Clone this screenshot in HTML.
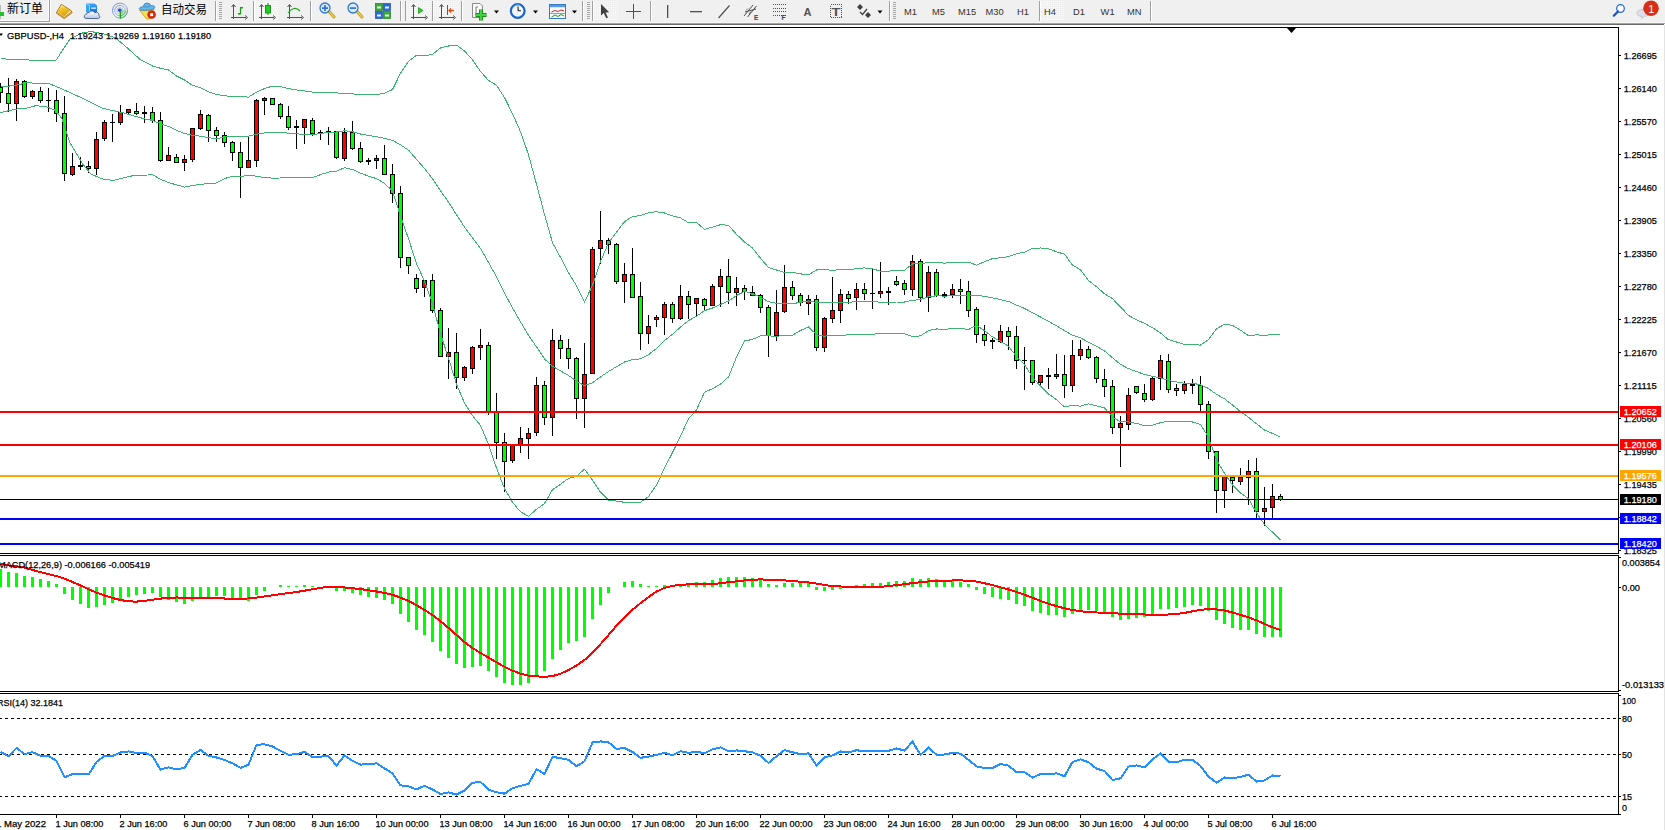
<!DOCTYPE html>
<html><head><meta charset="utf-8"><title>GBPUSD-,H4</title>
<style>
html,body{margin:0;padding:0;background:#fff;width:1665px;height:830px;overflow:hidden}
svg{display:block}
.ax{font-family:'Liberation Sans', 'DejaVu Sans', sans-serif;font-size:9.8px;fill:#000;stroke:#000;stroke-width:0.25px}
</style></head><body>
<svg width="1665" height="830" viewBox="0 0 1665 830">
<g id="toolbar">
<rect x="0" y="0" width="1665" height="22" fill="#f0f0f0"/>
<rect x="0" y="22" width="1665" height="1" fill="#f7f7f7"/>
<rect x="0" y="23" width="1665" height="1" fill="#a3a3a3"/>
<rect x="0" y="24" width="1664" height="1" fill="#6a6a6a"/>
<rect x="48" y="0" width="1" height="21" fill="#fafafa"/><rect x="0" y="20" width="49" height="1" fill="#fafafa"/>
<rect x="49" y="0" width="1" height="22" fill="#a0a0a0"/><rect x="0" y="21" width="50" height="1" fill="#a0a0a0"/>
<rect x="50" y="0" width="1" height="22" fill="#fbfbfb"/>
<rect x="0" y="5" width="1" height="14" fill="#b8b8b8"/><rect x="0" y="12" width="4" height="4" fill="#22c32a"/>
<text x="7" y="13.2" font-family="'Liberation Sans', 'Noto Sans CJK SC', 'WenQuanYi Zen Hei', sans-serif" font-size="12" fill="#000" textLength="36" lengthAdjust="spacingAndGlyphs">新订单</text>
<defs><linearGradient id="gold" x1="0.2" y1="0" x2="0.6" y2="1"><stop offset="0" stop-color="#fff3a0"/><stop offset="0.35" stop-color="#f2c828"/><stop offset="1" stop-color="#d89a10"/></linearGradient><linearGradient id="blu" x1="0" y1="0" x2="0" y2="1"><stop offset="0" stop-color="#3aa8ff"/><stop offset="1" stop-color="#0a6ee0"/></linearGradient><linearGradient id="cld" x1="0" y1="0" x2="0" y2="1"><stop offset="0" stop-color="#ffffff"/><stop offset="1" stop-color="#b8c8e0"/></linearGradient><radialGradient id="clk" cx="0.4" cy="0.35" r="0.7"><stop offset="0" stop-color="#ffffff"/><stop offset="0.55" stop-color="#dfe9f5"/><stop offset="0.62" stop-color="#2f7fd8"/><stop offset="1" stop-color="#0b4fa8"/></radialGradient><pattern id="dots" width="2" height="2" patternUnits="userSpaceOnUse"><rect width="2" height="2" fill="#f6f6f6"/><rect width="1" height="1" fill="#ebebeb"/></pattern></defs>
<path d="M61.3,4.3 L70.8,10.3 L72.2,12.6 L64.2,18.6 L56.3,13 L58.5,9.2 Z" fill="#f3dc8a" stroke="#9c6410" stroke-width="0.9"/>
<path d="M61.6,5 L70,10.3 L64.3,16.2 L57.6,11.8 Z" fill="url(#gold)"/>
<path d="M57.3,12.6 L64.3,17.2 L71.3,12" fill="none" stroke="#c48a22" stroke-width="0.8"/>
<path d="M86.3,3.6 L94.5,3.6 L97,5.2 L97,12.5 L86.3,12.5 Z" fill="url(#blu)"/>
<path d="M86.3,3.6 L89.6,5.6 L89.6,12 L86.3,12 Z" fill="#2aa8ff"/><path d="M87,3.9 L89.6,5.7 L89.6,11.5" fill="none" stroke="#d8f0ff" stroke-width="0.7"/>
<rect x="91.3" y="7.5" width="4.6" height="1.3" fill="#e6f6ff"/>
<path d="M85.2,18.4 Q83.6,17.2 84.6,15.3 Q85.4,13.9 86.6,14.2 Q86.8,12.1 89.2,12.4 Q90.2,10.6 92.6,11 Q94.6,11.3 94.9,12.9 Q96.2,11.6 97.8,12.6 Q99.2,13.6 99,15.4 Q100.4,16.6 99.4,18 Q98.8,18.6 97.5,18.6 Z" fill="url(#cld)" stroke="#3d5c94" stroke-width="0.9"/>
<defs><linearGradient id="sg" x1="0" y1="0" x2="1" y2="1"><stop offset="0" stop-color="#2a5ad0"/><stop offset="0.5" stop-color="#6a90d8"/><stop offset="1" stop-color="#209030"/></linearGradient><radialGradient id="sg2" cx="0" cy="0" r="1"><stop offset="0" stop-color="#f0f8f0"/><stop offset="1" stop-color="#60b060"/></radialGradient></defs>
<path d="M120,10.6 L128,10.6 A8,8 0 0 1 120,18.6 Z" fill="#a8d8a8" opacity="0.7"/>
<circle cx="120" cy="10.6" r="7.5" fill="none" stroke="url(#sg)" stroke-width="1" opacity="0.75"/>
<circle cx="120" cy="10.6" r="5.2" fill="none" stroke="url(#sg)" stroke-width="1" opacity="0.6"/>
<circle cx="120" cy="10.6" r="3.0" fill="none" stroke="url(#sg)" stroke-width="1" opacity="0.45"/>
<circle cx="119.8" cy="10.3" r="1.8" fill="#2048c8"/><rect x="119.7" y="10.8" width="1.3" height="7.8" fill="#18a018"/>
<path d="M139.5,10.2 L154,9.8 L149.5,19 L146.5,19 Z" fill="#f6dc50" stroke="#c89a18" stroke-width="0.8"/>
<path d="M139.2,8.6 Q140,6.4 143.3,6.8 Q143.6,3 147,3 Q150.3,3 150.6,5.8 Q154.8,5 154.8,7.4 Q154.6,9.6 150,10 L143,10.3 Q139.4,10.4 139.2,8.6 Z" fill="#64b8ec" stroke="#2c7cae" stroke-width="0.8"/>
<path d="M144,6.5 Q147,8 150.2,6" fill="none" stroke="#2c7cae" stroke-width="0.6"/>
<circle cx="151.6" cy="14.6" r="3.9" fill="#e02a10" stroke="#b01008" stroke-width="0.6"/><rect x="150.2" y="13.2" width="2.9" height="2.9" fill="#fff"/>
<text x="161" y="13.6" font-family="'Liberation Sans', 'Noto Sans CJK SC', 'WenQuanYi Zen Hei', sans-serif" font-size="12" fill="#000" textLength="46" lengthAdjust="spacingAndGlyphs">自动交易</text>
<rect x="215" y="1" width="1" height="20" fill="#a0a0a0"/><rect x="216" y="1" width="1" height="20" fill="#ffffff"/>
<rect x="219" y="2" width="3" height="1" fill="#a8a8a8"/>
<rect x="219" y="4" width="3" height="1" fill="#a8a8a8"/>
<rect x="219" y="6" width="3" height="1" fill="#a8a8a8"/>
<rect x="219" y="8" width="3" height="1" fill="#a8a8a8"/>
<rect x="219" y="10" width="3" height="1" fill="#a8a8a8"/>
<rect x="219" y="12" width="3" height="1" fill="#a8a8a8"/>
<rect x="219" y="14" width="3" height="1" fill="#a8a8a8"/>
<rect x="219" y="16" width="3" height="1" fill="#a8a8a8"/>
<rect x="219" y="18" width="3" height="1" fill="#a8a8a8"/>
<rect x="233" y="5" width="1" height="14" fill="#505050"/><rect x="231" y="17" width="15" height="1" fill="#505050"/>
<path d="M231.5,7 L233.5,4.5 L235.5,7" fill="none" stroke="#505050" stroke-width="1"/>
<path d="M245,15.5 L247.5,17.5 L245,19.5" fill="none" stroke="#505050" stroke-width="1"/>
<path d="M238.5,14.5 L239.5,14.5 M240.5,8 L240.5,14.5 M240.5,8 L242.5,8" stroke="#18a018" stroke-width="1.2" fill="none"/><rect x="238" y="13" width="2" height="1.2" fill="#18a018"/><rect x="240" y="7" width="3" height="1.2" fill="#18a018"/>
<rect x="254" y="1" width="25" height="20" fill="url(#dots)"/>
<rect x="253" y="1" width="1" height="20" fill="#a0a0a0"/><rect x="254" y="1" width="1" height="20" fill="#ffffff"/>
<rect x="261" y="5" width="1" height="14" fill="#505050"/><rect x="259" y="17" width="15" height="1" fill="#505050"/>
<path d="M259.5,7 L261.5,4.5 L263.5,7" fill="none" stroke="#505050" stroke-width="1"/>
<path d="M273,15.5 L275.5,17.5 L273,19.5" fill="none" stroke="#505050" stroke-width="1"/>
<rect x="267.5" y="3" width="1" height="12" fill="#109010"/><rect x="265.5" y="5.5" width="5" height="7.5" fill="#20d020" stroke="#108010" stroke-width="0.8"/>
<rect x="289" y="5" width="1" height="14" fill="#505050"/><rect x="287" y="17" width="15" height="1" fill="#505050"/>
<path d="M287.5,7 L289.5,4.5 L291.5,7" fill="none" stroke="#505050" stroke-width="1"/>
<path d="M301,15.5 L303.5,17.5 L301,19.5" fill="none" stroke="#505050" stroke-width="1"/>
<path d="M288,13 Q294,5 300,11" fill="none" stroke="#18a018" stroke-width="1.2"/>
<rect x="310" y="1" width="1" height="20" fill="#a0a0a0"/><rect x="311" y="1" width="1" height="20" fill="#ffffff"/>
<path d="M329,11.5 L334,17" stroke="#b89010" stroke-width="3" stroke-linecap="round"/>
<path d="M329,11.5 L334,17" stroke="#f0d050" stroke-width="1.5" stroke-linecap="round"/>
<circle cx="325" cy="8" r="5" fill="#d8eaf8" stroke="#2f78d0" stroke-width="1.3"/>
<rect x="322" y="7.3" width="6" height="1.6" fill="#2a6cc8"/>
<rect x="324.2" y="5" width="1.6" height="6" fill="#2a6cc8"/>
<path d="M357,11.5 L362,17" stroke="#b89010" stroke-width="3" stroke-linecap="round"/>
<path d="M357,11.5 L362,17" stroke="#f0d050" stroke-width="1.5" stroke-linecap="round"/>
<circle cx="353" cy="8" r="5" fill="#d8eaf8" stroke="#2f78d0" stroke-width="1.3"/>
<rect x="350" y="7.3" width="6" height="1.6" fill="#2a6cc8"/>
<rect x="375.5" y="3.5" width="7" height="7" fill="#3aa83a" stroke="#1c7c1c" stroke-width="0.7"/><rect x="383.5" y="3.5" width="7" height="7" fill="#2a6ad8" stroke="#1a4aa8" stroke-width="0.7"/>
<rect x="375.5" y="11.5" width="7" height="7" fill="#2a6ad8" stroke="#1a4aa8" stroke-width="0.7"/><rect x="383.5" y="11.5" width="7" height="7" fill="#3aa83a" stroke="#1c7c1c" stroke-width="0.7"/>
<rect x="377" y="6.5" width="4" height="2" fill="#e8f4e8"/>
<rect x="385" y="6.5" width="4" height="2" fill="#e8f4e8"/>
<rect x="377" y="14.5" width="4" height="2" fill="#e8f4e8"/>
<rect x="385" y="14.5" width="4" height="2" fill="#e8f4e8"/>
<rect x="400" y="1" width="1" height="20" fill="#a0a0a0"/><rect x="401" y="1" width="1" height="20" fill="#ffffff"/>
<rect x="405" y="1" width="1" height="20" fill="#a0a0a0"/>
<rect x="406" y="1" width="25" height="20" fill="url(#dots)"/>
<rect x="413" y="5" width="1" height="14" fill="#505050"/><rect x="411" y="17" width="15" height="1" fill="#505050"/>
<path d="M411.5,7 L413.5,4.5 L415.5,7" fill="none" stroke="#505050" stroke-width="1"/>
<path d="M425,15.5 L427.5,17.5 L425,19.5" fill="none" stroke="#505050" stroke-width="1"/>
<path d="M418.5,7.5 L423,10.5 L418.5,13.5 Z" fill="#40c040" stroke="#18a018" stroke-width="0.8"/>
<rect x="432" y="1" width="1" height="20" fill="#a0a0a0"/><rect x="433" y="1" width="1" height="20" fill="#ffffff"/>
<rect x="434" y="1" width="25" height="20" fill="url(#dots)"/>
<rect x="441" y="5" width="1" height="14" fill="#505050"/><rect x="439" y="17" width="15" height="1" fill="#505050"/>
<path d="M439.5,7 L441.5,4.5 L443.5,7" fill="none" stroke="#505050" stroke-width="1"/>
<path d="M453,15.5 L455.5,17.5 L453,19.5" fill="none" stroke="#505050" stroke-width="1"/>
<rect x="447" y="5" width="1" height="10" fill="#1a68c0"/><path d="M454,10.5 L449,10.5 M451,8.5 L449,10.5 L451,12.5" stroke="#e05010" stroke-width="1.3" fill="none"/>
<rect x="461" y="1" width="1" height="20" fill="#a0a0a0"/><rect x="462" y="1" width="1" height="20" fill="#ffffff"/>
<path d="M472.5,3.5 L480,3.5 L482.5,6 L482.5,17.5 L472.5,17.5 Z" fill="#fafafa" stroke="#707070" stroke-width="0.8"/>
<path d="M476,7 L476,15 M476,7 L478,7" stroke="#606060" stroke-width="0.8" fill="none"/>
<path d="M481,9.5 L481,20.5 M475.5,15 L486.5,15" stroke="#189018" stroke-width="4"/><path d="M481,10 L481,20 M476,15 L486,15" stroke="#44d044" stroke-width="2.2"/>
<path d="M494,10.5 L499,10.5 L496.5,13.5 Z" fill="#000"/>
<circle cx="517.7" cy="11" r="6.7" fill="#f2f6fb" stroke="#1668d0" stroke-width="1.9"/><circle cx="517.7" cy="11" r="7.6" fill="none" stroke="#0b4aa0" stroke-width="0.5"/>
<path d="M512.8,8 A5.6,5.6 0 0 1 520.5,5.6" fill="none" stroke="#6ab4ff" stroke-width="1"/>
<path d="M518,6.5 L518.2,10.8 L521,10.8" stroke="#202020" stroke-width="1.1" fill="none"/>
<path d="M533,10.5 L538,10.5 L535.5,13.5 Z" fill="#000"/>
<rect x="549.5" y="4.5" width="16" height="14" fill="#f6f9fd" stroke="#3878c8" stroke-width="1"/><rect x="550" y="5" width="15" height="2.2" fill="#5a9ae0"/>
<path d="M551.5,12 L555,10.5 L558,11.5 L561,10 L564,11" stroke="#c03020" stroke-width="1" fill="none"/>
<path d="M551.5,17 L555,15 L558,16.5 L561,14.5 L564,16" stroke="#20a020" stroke-width="1" fill="none"/><rect x="550" y="13" width="15" height="0.8" fill="#6a8ac0"/>
<path d="M572,10.5 L577,10.5 L574.5,13.5 Z" fill="#000"/>
<rect x="582" y="1" width="1" height="20" fill="#a0a0a0"/><rect x="583" y="1" width="1" height="20" fill="#ffffff"/>
<rect x="587" y="2" width="3" height="1" fill="#a8a8a8"/>
<rect x="587" y="4" width="3" height="1" fill="#a8a8a8"/>
<rect x="587" y="6" width="3" height="1" fill="#a8a8a8"/>
<rect x="587" y="8" width="3" height="1" fill="#a8a8a8"/>
<rect x="587" y="10" width="3" height="1" fill="#a8a8a8"/>
<rect x="587" y="12" width="3" height="1" fill="#a8a8a8"/>
<rect x="587" y="14" width="3" height="1" fill="#a8a8a8"/>
<rect x="587" y="16" width="3" height="1" fill="#a8a8a8"/>
<rect x="587" y="18" width="3" height="1" fill="#a8a8a8"/>
<rect x="592" y="1" width="1" height="20" fill="#a0a0a0"/><rect x="593" y="1" width="1" height="20" fill="#ffffff"/>
<rect x="594" y="1" width="25" height="20" fill="url(#dots)"/>
<path d="M601,4 L601,15.5 L603.8,13 L606.2,18.2 L608,17.4 L605.6,12.4 L609.2,12.2 Z" fill="#404040"/>
<rect x="633" y="4" width="1" height="15" fill="#505050"/><rect x="626" y="11" width="15" height="1" fill="#505050"/>
<rect x="650" y="1" width="1" height="20" fill="#a0a0a0"/><rect x="651" y="1" width="1" height="20" fill="#ffffff"/>
<rect x="667" y="5" width="1.3" height="13" fill="#505050"/>
<rect x="690" y="11" width="12" height="1.3" fill="#505050"/>
<path d="M718.5,18 L729.5,5.5" stroke="#505050" stroke-width="1.2"/>
<path d="M744,16 L753,5 M747.5,17 L756.5,6 M745,12 L756,9" stroke="#505050" stroke-width="1" fill="none"/><path d="M746,10.5 L748,8.5 M749,14 L751,11.5 M752,11 L754,9" stroke="#505050" stroke-width="0.8"/>
<text x="754" y="20" font-family="'Liberation Sans', 'DejaVu Sans', sans-serif" font-size="6.5" font-weight="bold" fill="#404040">E</text>
<path d="M773,4.5 L787,4.5" stroke="#505050" stroke-width="1" stroke-dasharray="1,1" shape-rendering="crispEdges"/>
<path d="M773,8 L787,8" stroke="#505050" stroke-width="1" stroke-dasharray="1,1" shape-rendering="crispEdges"/>
<path d="M773,11.5 L787,11.5" stroke="#505050" stroke-width="1" stroke-dasharray="1,1" shape-rendering="crispEdges"/>
<path d="M773,15 L787,15" stroke="#505050" stroke-width="1" stroke-dasharray="1,1" shape-rendering="crispEdges"/>
<text x="781.5" y="20" font-family="'Liberation Sans', 'DejaVu Sans', sans-serif" font-size="6.5" font-weight="bold" fill="#404040">F</text>
<text x="803.5" y="16" font-family="'Liberation Sans', 'DejaVu Sans', sans-serif" font-size="11.5" font-weight="bold" fill="#555" textLength="8" lengthAdjust="spacingAndGlyphs">A</text>
<rect x="830.5" y="4.5" width="11" height="13" fill="none" stroke="#505050" stroke-width="1" stroke-dasharray="1,1" shape-rendering="crispEdges"/>
<text x="831.5" y="16" font-family="'Liberation Sans', 'DejaVu Sans', sans-serif" font-size="11.5" font-weight="bold" fill="#555" textLength="9" lengthAdjust="spacingAndGlyphs">T</text>
<path d="M857,7 L860,4 L863,7 L860,10 Z M865,15 L868,12 L871,15 L868,18 Z" fill="#404040"/><path d="M860,12 L862.5,14.5 L867,9" stroke="#404040" stroke-width="1.3" fill="none"/>
<path d="M877.5,10.5 L882.5,10.5 L880.0,13.5 Z" fill="#000"/>
<rect x="889" y="1" width="1" height="20" fill="#a0a0a0"/><rect x="890" y="1" width="1" height="20" fill="#ffffff"/>
<rect x="893" y="2" width="3" height="1" fill="#a8a8a8"/>
<rect x="893" y="4" width="3" height="1" fill="#a8a8a8"/>
<rect x="893" y="6" width="3" height="1" fill="#a8a8a8"/>
<rect x="893" y="8" width="3" height="1" fill="#a8a8a8"/>
<rect x="893" y="10" width="3" height="1" fill="#a8a8a8"/>
<rect x="893" y="12" width="3" height="1" fill="#a8a8a8"/>
<rect x="893" y="14" width="3" height="1" fill="#a8a8a8"/>
<rect x="893" y="16" width="3" height="1" fill="#a8a8a8"/>
<rect x="893" y="18" width="3" height="1" fill="#a8a8a8"/>
<text x="904.1" y="15" font-family="'Liberation Sans', 'DejaVu Sans', sans-serif" font-size="9.6" fill="#333" textLength="12.9" lengthAdjust="spacingAndGlyphs">M1</text>
<text x="932.1" y="15" font-family="'Liberation Sans', 'DejaVu Sans', sans-serif" font-size="9.6" fill="#333" textLength="12.9" lengthAdjust="spacingAndGlyphs">M5</text>
<text x="958.1" y="15" font-family="'Liberation Sans', 'DejaVu Sans', sans-serif" font-size="9.6" fill="#333" textLength="18.1" lengthAdjust="spacingAndGlyphs">M15</text>
<text x="985.6" y="15" font-family="'Liberation Sans', 'DejaVu Sans', sans-serif" font-size="9.6" fill="#333" textLength="18.1" lengthAdjust="spacingAndGlyphs">M30</text>
<text x="1017.1" y="15" font-family="'Liberation Sans', 'DejaVu Sans', sans-serif" font-size="9.6" fill="#333" textLength="11.9" lengthAdjust="spacingAndGlyphs">H1</text>
<rect x="1040" y="1" width="25" height="20" fill="url(#dots)"/>
<rect x="1039" y="1" width="1" height="20" fill="#a0a0a0"/><rect x="1040" y="1" width="1" height="20" fill="#ffffff"/>
<text x="1044.1" y="15" font-family="'Liberation Sans', 'DejaVu Sans', sans-serif" font-size="9.6" fill="#333" textLength="11.9" lengthAdjust="spacingAndGlyphs">H4</text>
<text x="1073.1" y="15" font-family="'Liberation Sans', 'DejaVu Sans', sans-serif" font-size="9.6" fill="#333" textLength="11.9" lengthAdjust="spacingAndGlyphs">D1</text>
<text x="1100.6" y="15" font-family="'Liberation Sans', 'DejaVu Sans', sans-serif" font-size="9.6" fill="#333" textLength="14.0" lengthAdjust="spacingAndGlyphs">W1</text>
<text x="1127.1" y="15" font-family="'Liberation Sans', 'DejaVu Sans', sans-serif" font-size="9.6" fill="#333" textLength="14.5" lengthAdjust="spacingAndGlyphs">MN</text>
<rect x="1150" y="1" width="1" height="20" fill="#a0a0a0"/><rect x="1151" y="1" width="1" height="20" fill="#ffffff"/>
<circle cx="1620.5" cy="8.5" r="3.8" fill="#fff" stroke="#2a6ad8" stroke-width="1.3"/><path d="M1618,11.5 L1613.8,15.8" stroke="#1a50c0" stroke-width="2.2" stroke-linecap="round"/>
<path d="M1642,18.5 L1641.5,16.5 Q1637,16 1637,13 Q1637,9.5 1643,9.5 Q1649,9.5 1649,13 Q1649,16 1644,16.3 Z" fill="#dde0ea" stroke="#b0b4c0" stroke-width="0.7"/>
<circle cx="1651" cy="8.3" r="7.8" fill="#d83018"/>
<text x="1648.3" y="12.8" font-family="'Liberation Sans', 'DejaVu Sans', sans-serif" font-size="11" fill="#fff">1</text>
</g>
<g id="chart" shape-rendering="crispEdges">
<rect x="0" y="25" width="1664" height="805" fill="#fff"/>
<rect x="1664" y="25" width="1" height="805" fill="#e3e3e3"/>
<rect x="0" y="27" width="1619" height="1" fill="#000"/>
<rect x="1618" y="27" width="1" height="527" fill="#000"/>
<rect x="1618" y="555" width="1" height="137" fill="#000"/>
<rect x="1618" y="693" width="1" height="122" fill="#000"/>
<rect x="0" y="553" width="1619" height="1" fill="#000"/>
<rect x="0" y="555" width="1619" height="1" fill="#000"/>
<rect x="0" y="691" width="1619" height="1" fill="#000"/>
<rect x="0" y="693" width="1619" height="1" fill="#000"/>
<rect x="0" y="814" width="1619" height="1" fill="#000"/>
</g>
<g shape-rendering="crispEdges">
<rect x="0" y="83" width="1" height="20" fill="#000"/>
<rect x="-2" y="87" width="5" height="6" fill="#000"/>
<rect x="-1" y="88" width="3" height="4" fill="#00ff00"/>
<rect x="8" y="78" width="1" height="34" fill="#000"/>
<rect x="6" y="93" width="5" height="11" fill="#000"/>
<rect x="7" y="94" width="3" height="9" fill="#00ff00"/>
<rect x="16" y="79" width="1" height="42" fill="#000"/>
<rect x="14" y="81" width="5" height="23" fill="#000"/>
<rect x="15" y="82" width="3" height="21" fill="#ff0000"/>
<rect x="24" y="80" width="1" height="18" fill="#000"/>
<rect x="22" y="81" width="5" height="16" fill="#000"/>
<rect x="23" y="82" width="3" height="14" fill="#00ff00"/>
<rect x="32" y="90" width="1" height="9" fill="#000"/>
<rect x="30" y="91" width="5" height="6" fill="#000"/>
<rect x="31" y="92" width="3" height="4" fill="#ff0000"/>
<rect x="40" y="87" width="1" height="16" fill="#000"/>
<rect x="38" y="91" width="5" height="10" fill="#000"/>
<rect x="39" y="92" width="3" height="8" fill="#00ff00"/>
<rect x="48" y="88" width="1" height="24" fill="#000"/>
<rect x="46" y="100" width="5" height="1" fill="#000"/>
<rect x="56" y="90" width="1" height="32" fill="#000"/>
<rect x="54" y="100" width="5" height="14" fill="#000"/>
<rect x="55" y="101" width="3" height="12" fill="#00ff00"/>
<rect x="64" y="96" width="1" height="85" fill="#000"/>
<rect x="62" y="113" width="5" height="61" fill="#000"/>
<rect x="63" y="114" width="3" height="59" fill="#00ff00"/>
<rect x="72" y="153" width="1" height="23" fill="#000"/>
<rect x="70" y="166" width="5" height="9" fill="#000"/>
<rect x="71" y="167" width="3" height="7" fill="#ff0000"/>
<rect x="80" y="157" width="1" height="13" fill="#000"/>
<rect x="78" y="165" width="5" height="2" fill="#000"/>
<rect x="88" y="161" width="1" height="12" fill="#000"/>
<rect x="86" y="166" width="5" height="3" fill="#000"/>
<rect x="87" y="167" width="3" height="1" fill="#00ff00"/>
<rect x="96" y="132" width="1" height="43" fill="#000"/>
<rect x="94" y="139" width="5" height="30" fill="#000"/>
<rect x="95" y="140" width="3" height="28" fill="#ff0000"/>
<rect x="104" y="120" width="1" height="21" fill="#000"/>
<rect x="102" y="122" width="5" height="17" fill="#000"/>
<rect x="103" y="123" width="3" height="15" fill="#ff0000"/>
<rect x="112" y="114" width="1" height="28" fill="#000"/>
<rect x="110" y="122" width="5" height="1" fill="#000"/>
<rect x="120" y="105" width="1" height="20" fill="#000"/>
<rect x="118" y="112" width="5" height="11" fill="#000"/>
<rect x="119" y="113" width="3" height="9" fill="#ff0000"/>
<rect x="128" y="109" width="1" height="6" fill="#000"/>
<rect x="126" y="109" width="5" height="4" fill="#000"/>
<rect x="127" y="110" width="3" height="2" fill="#ff0000"/>
<rect x="136" y="103" width="1" height="12" fill="#000"/>
<rect x="134" y="111" width="5" height="3" fill="#000"/>
<rect x="135" y="112" width="3" height="1" fill="#00ff00"/>
<rect x="144" y="106" width="1" height="17" fill="#000"/>
<rect x="142" y="112" width="5" height="2" fill="#000"/>
<rect x="152" y="107" width="1" height="16" fill="#000"/>
<rect x="150" y="112" width="5" height="9" fill="#000"/>
<rect x="151" y="113" width="3" height="7" fill="#00ff00"/>
<rect x="160" y="112" width="1" height="50" fill="#000"/>
<rect x="158" y="120" width="5" height="41" fill="#000"/>
<rect x="159" y="121" width="3" height="39" fill="#00ff00"/>
<rect x="168" y="147" width="1" height="14" fill="#000"/>
<rect x="166" y="155" width="5" height="6" fill="#000"/>
<rect x="167" y="156" width="3" height="4" fill="#ff0000"/>
<rect x="176" y="154" width="1" height="9" fill="#000"/>
<rect x="174" y="157" width="5" height="6" fill="#000"/>
<rect x="175" y="158" width="3" height="4" fill="#00ff00"/>
<rect x="184" y="155" width="1" height="16" fill="#000"/>
<rect x="182" y="159" width="5" height="4" fill="#000"/>
<rect x="183" y="160" width="3" height="2" fill="#ff0000"/>
<rect x="192" y="128" width="1" height="34" fill="#000"/>
<rect x="190" y="128" width="5" height="32" fill="#000"/>
<rect x="191" y="129" width="3" height="30" fill="#ff0000"/>
<rect x="200" y="110" width="1" height="20" fill="#000"/>
<rect x="198" y="114" width="5" height="15" fill="#000"/>
<rect x="199" y="115" width="3" height="13" fill="#ff0000"/>
<rect x="208" y="114" width="1" height="28" fill="#000"/>
<rect x="206" y="115" width="5" height="16" fill="#000"/>
<rect x="207" y="116" width="3" height="14" fill="#00ff00"/>
<rect x="216" y="127" width="1" height="15" fill="#000"/>
<rect x="214" y="130" width="5" height="6" fill="#000"/>
<rect x="215" y="131" width="3" height="4" fill="#00ff00"/>
<rect x="224" y="132" width="1" height="15" fill="#000"/>
<rect x="222" y="135" width="5" height="8" fill="#000"/>
<rect x="223" y="136" width="3" height="6" fill="#00ff00"/>
<rect x="232" y="141" width="1" height="20" fill="#000"/>
<rect x="230" y="142" width="5" height="11" fill="#000"/>
<rect x="231" y="143" width="3" height="9" fill="#00ff00"/>
<rect x="240" y="142" width="1" height="56" fill="#000"/>
<rect x="238" y="152" width="5" height="16" fill="#000"/>
<rect x="239" y="153" width="3" height="14" fill="#00ff00"/>
<rect x="248" y="136" width="1" height="32" fill="#000"/>
<rect x="246" y="160" width="5" height="8" fill="#000"/>
<rect x="247" y="161" width="3" height="6" fill="#ff0000"/>
<rect x="256" y="99" width="1" height="68" fill="#000"/>
<rect x="254" y="100" width="5" height="61" fill="#000"/>
<rect x="255" y="101" width="3" height="59" fill="#ff0000"/>
<rect x="264" y="97" width="1" height="18" fill="#000"/>
<rect x="262" y="98" width="5" height="3" fill="#000"/>
<rect x="263" y="99" width="3" height="1" fill="#ff0000"/>
<rect x="272" y="98" width="1" height="7" fill="#000"/>
<rect x="270" y="98" width="5" height="7" fill="#000"/>
<rect x="271" y="99" width="3" height="5" fill="#00ff00"/>
<rect x="280" y="103" width="1" height="16" fill="#000"/>
<rect x="278" y="104" width="5" height="13" fill="#000"/>
<rect x="279" y="105" width="3" height="11" fill="#00ff00"/>
<rect x="288" y="106" width="1" height="24" fill="#000"/>
<rect x="286" y="116" width="5" height="12" fill="#000"/>
<rect x="287" y="117" width="3" height="10" fill="#00ff00"/>
<rect x="296" y="120" width="1" height="29" fill="#000"/>
<rect x="294" y="126" width="5" height="2" fill="#000"/>
<rect x="304" y="119" width="1" height="25" fill="#000"/>
<rect x="302" y="119" width="5" height="9" fill="#000"/>
<rect x="303" y="120" width="3" height="7" fill="#ff0000"/>
<rect x="312" y="118" width="1" height="18" fill="#000"/>
<rect x="310" y="120" width="5" height="14" fill="#000"/>
<rect x="311" y="121" width="3" height="12" fill="#00ff00"/>
<rect x="320" y="130" width="1" height="10" fill="#000"/>
<rect x="318" y="132" width="5" height="1" fill="#000"/>
<rect x="328" y="127" width="1" height="18" fill="#000"/>
<rect x="326" y="131" width="5" height="1" fill="#000"/>
<rect x="336" y="131" width="1" height="28" fill="#000"/>
<rect x="334" y="131" width="5" height="27" fill="#000"/>
<rect x="335" y="132" width="3" height="25" fill="#00ff00"/>
<rect x="344" y="128" width="1" height="33" fill="#000"/>
<rect x="342" y="132" width="5" height="27" fill="#000"/>
<rect x="343" y="133" width="3" height="25" fill="#ff0000"/>
<rect x="352" y="121" width="1" height="29" fill="#000"/>
<rect x="350" y="132" width="5" height="17" fill="#000"/>
<rect x="351" y="133" width="3" height="15" fill="#00ff00"/>
<rect x="360" y="142" width="1" height="21" fill="#000"/>
<rect x="358" y="148" width="5" height="14" fill="#000"/>
<rect x="359" y="149" width="3" height="12" fill="#00ff00"/>
<rect x="368" y="158" width="1" height="7" fill="#000"/>
<rect x="366" y="160" width="5" height="2" fill="#000"/>
<rect x="376" y="155" width="1" height="14" fill="#000"/>
<rect x="374" y="158" width="5" height="3" fill="#000"/>
<rect x="375" y="159" width="3" height="1" fill="#ff0000"/>
<rect x="384" y="145" width="1" height="30" fill="#000"/>
<rect x="382" y="158" width="5" height="17" fill="#000"/>
<rect x="383" y="159" width="3" height="15" fill="#00ff00"/>
<rect x="392" y="164" width="1" height="39" fill="#000"/>
<rect x="390" y="174" width="5" height="20" fill="#000"/>
<rect x="391" y="175" width="3" height="18" fill="#00ff00"/>
<rect x="400" y="186" width="1" height="82" fill="#000"/>
<rect x="398" y="193" width="5" height="65" fill="#000"/>
<rect x="399" y="194" width="3" height="63" fill="#00ff00"/>
<rect x="408" y="257" width="1" height="17" fill="#000"/>
<rect x="406" y="257" width="5" height="9" fill="#000"/>
<rect x="407" y="258" width="3" height="7" fill="#00ff00"/>
<rect x="416" y="274" width="1" height="19" fill="#000"/>
<rect x="414" y="278" width="5" height="11" fill="#000"/>
<rect x="415" y="279" width="3" height="9" fill="#00ff00"/>
<rect x="424" y="280" width="1" height="17" fill="#000"/>
<rect x="422" y="280" width="5" height="8" fill="#000"/>
<rect x="423" y="281" width="3" height="6" fill="#ff0000"/>
<rect x="432" y="274" width="1" height="39" fill="#000"/>
<rect x="430" y="280" width="5" height="31" fill="#000"/>
<rect x="431" y="281" width="3" height="29" fill="#00ff00"/>
<rect x="440" y="308" width="1" height="49" fill="#000"/>
<rect x="438" y="310" width="5" height="47" fill="#000"/>
<rect x="439" y="311" width="3" height="45" fill="#00ff00"/>
<rect x="448" y="328" width="1" height="51" fill="#000"/>
<rect x="446" y="352" width="5" height="5" fill="#000"/>
<rect x="447" y="353" width="3" height="3" fill="#ff0000"/>
<rect x="456" y="333" width="1" height="56" fill="#000"/>
<rect x="454" y="352" width="5" height="26" fill="#000"/>
<rect x="455" y="353" width="3" height="24" fill="#00ff00"/>
<rect x="464" y="366" width="1" height="15" fill="#000"/>
<rect x="462" y="367" width="5" height="11" fill="#000"/>
<rect x="463" y="368" width="3" height="9" fill="#ff0000"/>
<rect x="472" y="346" width="1" height="28" fill="#000"/>
<rect x="470" y="347" width="5" height="22" fill="#000"/>
<rect x="471" y="348" width="3" height="20" fill="#ff0000"/>
<rect x="480" y="329" width="1" height="31" fill="#000"/>
<rect x="478" y="345" width="5" height="3" fill="#000"/>
<rect x="479" y="346" width="3" height="1" fill="#ff0000"/>
<rect x="488" y="342" width="1" height="73" fill="#000"/>
<rect x="486" y="345" width="5" height="67" fill="#000"/>
<rect x="487" y="346" width="3" height="65" fill="#00ff00"/>
<rect x="496" y="393" width="1" height="66" fill="#000"/>
<rect x="494" y="412" width="5" height="31" fill="#000"/>
<rect x="495" y="413" width="3" height="29" fill="#00ff00"/>
<rect x="504" y="433" width="1" height="59" fill="#000"/>
<rect x="502" y="442" width="5" height="20" fill="#000"/>
<rect x="503" y="443" width="3" height="18" fill="#00ff00"/>
<rect x="512" y="445" width="1" height="18" fill="#000"/>
<rect x="510" y="445" width="5" height="16" fill="#000"/>
<rect x="511" y="446" width="3" height="14" fill="#ff0000"/>
<rect x="520" y="427" width="1" height="26" fill="#000"/>
<rect x="518" y="438" width="5" height="7" fill="#000"/>
<rect x="519" y="439" width="3" height="5" fill="#ff0000"/>
<rect x="528" y="428" width="1" height="31" fill="#000"/>
<rect x="526" y="433" width="5" height="6" fill="#000"/>
<rect x="527" y="434" width="3" height="4" fill="#ff0000"/>
<rect x="536" y="377" width="1" height="59" fill="#000"/>
<rect x="534" y="385" width="5" height="48" fill="#000"/>
<rect x="535" y="386" width="3" height="46" fill="#ff0000"/>
<rect x="544" y="381" width="1" height="44" fill="#000"/>
<rect x="542" y="385" width="5" height="33" fill="#000"/>
<rect x="543" y="386" width="3" height="31" fill="#00ff00"/>
<rect x="552" y="329" width="1" height="107" fill="#000"/>
<rect x="550" y="340" width="5" height="78" fill="#000"/>
<rect x="551" y="341" width="3" height="76" fill="#ff0000"/>
<rect x="560" y="335" width="1" height="24" fill="#000"/>
<rect x="558" y="340" width="5" height="9" fill="#000"/>
<rect x="559" y="341" width="3" height="7" fill="#00ff00"/>
<rect x="568" y="339" width="1" height="30" fill="#000"/>
<rect x="566" y="348" width="5" height="11" fill="#000"/>
<rect x="567" y="349" width="3" height="9" fill="#00ff00"/>
<rect x="576" y="357" width="1" height="62" fill="#000"/>
<rect x="574" y="358" width="5" height="41" fill="#000"/>
<rect x="575" y="359" width="3" height="39" fill="#00ff00"/>
<rect x="584" y="343" width="1" height="85" fill="#000"/>
<rect x="582" y="374" width="5" height="25" fill="#000"/>
<rect x="583" y="375" width="3" height="23" fill="#ff0000"/>
<rect x="592" y="247" width="1" height="127" fill="#000"/>
<rect x="590" y="249" width="5" height="125" fill="#000"/>
<rect x="591" y="250" width="3" height="123" fill="#ff0000"/>
<rect x="600" y="211" width="1" height="53" fill="#000"/>
<rect x="598" y="240" width="5" height="9" fill="#000"/>
<rect x="599" y="241" width="3" height="7" fill="#ff0000"/>
<rect x="608" y="238" width="1" height="16" fill="#000"/>
<rect x="606" y="240" width="5" height="5" fill="#000"/>
<rect x="607" y="241" width="3" height="3" fill="#00ff00"/>
<rect x="616" y="243" width="1" height="41" fill="#000"/>
<rect x="614" y="244" width="5" height="38" fill="#000"/>
<rect x="615" y="245" width="3" height="36" fill="#00ff00"/>
<rect x="624" y="263" width="1" height="40" fill="#000"/>
<rect x="622" y="274" width="5" height="8" fill="#000"/>
<rect x="623" y="275" width="3" height="6" fill="#ff0000"/>
<rect x="632" y="248" width="1" height="50" fill="#000"/>
<rect x="630" y="274" width="5" height="24" fill="#000"/>
<rect x="631" y="275" width="3" height="22" fill="#00ff00"/>
<rect x="640" y="282" width="1" height="68" fill="#000"/>
<rect x="638" y="296" width="5" height="38" fill="#000"/>
<rect x="639" y="297" width="3" height="36" fill="#00ff00"/>
<rect x="648" y="315" width="1" height="29" fill="#000"/>
<rect x="646" y="326" width="5" height="8" fill="#000"/>
<rect x="647" y="327" width="3" height="6" fill="#ff0000"/>
<rect x="656" y="315" width="1" height="12" fill="#000"/>
<rect x="654" y="317" width="5" height="3" fill="#000"/>
<rect x="655" y="318" width="3" height="1" fill="#ff0000"/>
<rect x="664" y="302" width="1" height="33" fill="#000"/>
<rect x="662" y="304" width="5" height="14" fill="#000"/>
<rect x="663" y="305" width="3" height="12" fill="#ff0000"/>
<rect x="672" y="302" width="1" height="21" fill="#000"/>
<rect x="670" y="304" width="5" height="15" fill="#000"/>
<rect x="671" y="305" width="3" height="13" fill="#00ff00"/>
<rect x="680" y="285" width="1" height="35" fill="#000"/>
<rect x="678" y="296" width="5" height="23" fill="#000"/>
<rect x="679" y="297" width="3" height="21" fill="#ff0000"/>
<rect x="688" y="291" width="1" height="28" fill="#000"/>
<rect x="686" y="296" width="5" height="9" fill="#000"/>
<rect x="687" y="297" width="3" height="7" fill="#00ff00"/>
<rect x="696" y="298" width="1" height="19" fill="#000"/>
<rect x="694" y="298" width="5" height="6" fill="#000"/>
<rect x="695" y="299" width="3" height="4" fill="#ff0000"/>
<rect x="704" y="298" width="1" height="13" fill="#000"/>
<rect x="702" y="299" width="5" height="7" fill="#000"/>
<rect x="703" y="300" width="3" height="5" fill="#00ff00"/>
<rect x="712" y="284" width="1" height="22" fill="#000"/>
<rect x="710" y="286" width="5" height="20" fill="#000"/>
<rect x="711" y="287" width="3" height="18" fill="#ff0000"/>
<rect x="720" y="269" width="1" height="38" fill="#000"/>
<rect x="718" y="276" width="5" height="11" fill="#000"/>
<rect x="719" y="277" width="3" height="9" fill="#ff0000"/>
<rect x="728" y="259" width="1" height="45" fill="#000"/>
<rect x="726" y="276" width="5" height="17" fill="#000"/>
<rect x="727" y="277" width="3" height="15" fill="#00ff00"/>
<rect x="736" y="277" width="1" height="29" fill="#000"/>
<rect x="734" y="288" width="5" height="5" fill="#000"/>
<rect x="735" y="289" width="3" height="3" fill="#ff0000"/>
<rect x="744" y="285" width="1" height="15" fill="#000"/>
<rect x="742" y="288" width="5" height="4" fill="#000"/>
<rect x="743" y="289" width="3" height="2" fill="#00ff00"/>
<rect x="752" y="286" width="1" height="10" fill="#000"/>
<rect x="750" y="292" width="5" height="4" fill="#000"/>
<rect x="751" y="293" width="3" height="2" fill="#00ff00"/>
<rect x="760" y="294" width="1" height="19" fill="#000"/>
<rect x="758" y="295" width="5" height="13" fill="#000"/>
<rect x="759" y="296" width="3" height="11" fill="#00ff00"/>
<rect x="768" y="305" width="1" height="52" fill="#000"/>
<rect x="766" y="307" width="5" height="29" fill="#000"/>
<rect x="767" y="308" width="3" height="27" fill="#00ff00"/>
<rect x="776" y="290" width="1" height="51" fill="#000"/>
<rect x="774" y="312" width="5" height="24" fill="#000"/>
<rect x="775" y="313" width="3" height="22" fill="#ff0000"/>
<rect x="784" y="265" width="1" height="48" fill="#000"/>
<rect x="782" y="287" width="5" height="25" fill="#000"/>
<rect x="783" y="288" width="3" height="23" fill="#ff0000"/>
<rect x="792" y="281" width="1" height="19" fill="#000"/>
<rect x="790" y="287" width="5" height="9" fill="#000"/>
<rect x="791" y="288" width="3" height="7" fill="#00ff00"/>
<rect x="800" y="293" width="1" height="13" fill="#000"/>
<rect x="798" y="295" width="5" height="8" fill="#000"/>
<rect x="799" y="296" width="3" height="6" fill="#00ff00"/>
<rect x="808" y="295" width="1" height="20" fill="#000"/>
<rect x="806" y="299" width="5" height="5" fill="#000"/>
<rect x="807" y="300" width="3" height="3" fill="#ff0000"/>
<rect x="816" y="295" width="1" height="56" fill="#000"/>
<rect x="814" y="299" width="5" height="49" fill="#000"/>
<rect x="815" y="300" width="3" height="47" fill="#00ff00"/>
<rect x="824" y="317" width="1" height="35" fill="#000"/>
<rect x="822" y="318" width="5" height="30" fill="#000"/>
<rect x="823" y="319" width="3" height="28" fill="#ff0000"/>
<rect x="832" y="277" width="1" height="46" fill="#000"/>
<rect x="830" y="310" width="5" height="9" fill="#000"/>
<rect x="831" y="311" width="3" height="7" fill="#ff0000"/>
<rect x="840" y="289" width="1" height="34" fill="#000"/>
<rect x="838" y="294" width="5" height="17" fill="#000"/>
<rect x="839" y="295" width="3" height="15" fill="#ff0000"/>
<rect x="848" y="291" width="1" height="13" fill="#000"/>
<rect x="846" y="294" width="5" height="5" fill="#000"/>
<rect x="847" y="295" width="3" height="3" fill="#00ff00"/>
<rect x="856" y="283" width="1" height="27" fill="#000"/>
<rect x="854" y="289" width="5" height="9" fill="#000"/>
<rect x="855" y="290" width="3" height="7" fill="#ff0000"/>
<rect x="864" y="283" width="1" height="17" fill="#000"/>
<rect x="862" y="289" width="5" height="5" fill="#000"/>
<rect x="863" y="290" width="3" height="3" fill="#00ff00"/>
<rect x="872" y="269" width="1" height="40" fill="#000"/>
<rect x="870" y="293" width="5" height="1" fill="#000"/>
<rect x="880" y="262" width="1" height="36" fill="#000"/>
<rect x="878" y="291" width="5" height="3" fill="#000"/>
<rect x="879" y="292" width="3" height="1" fill="#ff0000"/>
<rect x="888" y="287" width="1" height="18" fill="#000"/>
<rect x="886" y="291" width="5" height="2" fill="#000"/>
<rect x="896" y="276" width="1" height="10" fill="#000"/>
<rect x="894" y="281" width="5" height="4" fill="#000"/>
<rect x="895" y="282" width="3" height="2" fill="#00ff00"/>
<rect x="904" y="280" width="1" height="15" fill="#000"/>
<rect x="902" y="283" width="5" height="7" fill="#000"/>
<rect x="903" y="284" width="3" height="5" fill="#00ff00"/>
<rect x="912" y="255" width="1" height="41" fill="#000"/>
<rect x="910" y="261" width="5" height="29" fill="#000"/>
<rect x="911" y="262" width="3" height="27" fill="#ff0000"/>
<rect x="920" y="259" width="1" height="43" fill="#000"/>
<rect x="918" y="261" width="5" height="37" fill="#000"/>
<rect x="919" y="262" width="3" height="35" fill="#00ff00"/>
<rect x="928" y="266" width="1" height="46" fill="#000"/>
<rect x="926" y="272" width="5" height="26" fill="#000"/>
<rect x="927" y="273" width="3" height="24" fill="#ff0000"/>
<rect x="936" y="269" width="1" height="28" fill="#000"/>
<rect x="934" y="272" width="5" height="24" fill="#000"/>
<rect x="935" y="273" width="3" height="22" fill="#00ff00"/>
<rect x="944" y="292" width="1" height="6" fill="#000"/>
<rect x="942" y="294" width="5" height="2" fill="#000"/>
<rect x="952" y="284" width="1" height="14" fill="#000"/>
<rect x="950" y="289" width="5" height="6" fill="#000"/>
<rect x="951" y="290" width="3" height="4" fill="#ff0000"/>
<rect x="960" y="279" width="1" height="25" fill="#000"/>
<rect x="958" y="289" width="5" height="3" fill="#000"/>
<rect x="959" y="290" width="3" height="1" fill="#00ff00"/>
<rect x="968" y="281" width="1" height="36" fill="#000"/>
<rect x="966" y="291" width="5" height="20" fill="#000"/>
<rect x="967" y="292" width="3" height="18" fill="#00ff00"/>
<rect x="976" y="307" width="1" height="36" fill="#000"/>
<rect x="974" y="309" width="5" height="26" fill="#000"/>
<rect x="975" y="310" width="3" height="24" fill="#00ff00"/>
<rect x="984" y="325" width="1" height="21" fill="#000"/>
<rect x="982" y="334" width="5" height="7" fill="#000"/>
<rect x="983" y="335" width="3" height="5" fill="#00ff00"/>
<rect x="992" y="338" width="1" height="11" fill="#000"/>
<rect x="990" y="340" width="5" height="2" fill="#000"/>
<rect x="1000" y="325" width="1" height="18" fill="#000"/>
<rect x="998" y="331" width="5" height="11" fill="#000"/>
<rect x="999" y="332" width="3" height="9" fill="#ff0000"/>
<rect x="1008" y="327" width="1" height="23" fill="#000"/>
<rect x="1006" y="331" width="5" height="6" fill="#000"/>
<rect x="1007" y="332" width="3" height="4" fill="#00ff00"/>
<rect x="1016" y="326" width="1" height="43" fill="#000"/>
<rect x="1014" y="336" width="5" height="25" fill="#000"/>
<rect x="1015" y="337" width="3" height="23" fill="#00ff00"/>
<rect x="1024" y="347" width="1" height="43" fill="#000"/>
<rect x="1022" y="360" width="5" height="1" fill="#000"/>
<rect x="1032" y="360" width="1" height="25" fill="#000"/>
<rect x="1030" y="360" width="5" height="23" fill="#000"/>
<rect x="1031" y="361" width="3" height="21" fill="#00ff00"/>
<rect x="1040" y="375" width="1" height="10" fill="#000"/>
<rect x="1038" y="375" width="5" height="8" fill="#000"/>
<rect x="1039" y="376" width="3" height="6" fill="#ff0000"/>
<rect x="1048" y="368" width="1" height="21" fill="#000"/>
<rect x="1046" y="375" width="5" height="2" fill="#000"/>
<rect x="1056" y="354" width="1" height="25" fill="#000"/>
<rect x="1054" y="374" width="5" height="3" fill="#000"/>
<rect x="1055" y="375" width="3" height="1" fill="#ff0000"/>
<rect x="1064" y="355" width="1" height="43" fill="#000"/>
<rect x="1062" y="374" width="5" height="12" fill="#000"/>
<rect x="1063" y="375" width="3" height="10" fill="#00ff00"/>
<rect x="1072" y="340" width="1" height="52" fill="#000"/>
<rect x="1070" y="355" width="5" height="31" fill="#000"/>
<rect x="1071" y="356" width="3" height="29" fill="#ff0000"/>
<rect x="1080" y="340" width="1" height="20" fill="#000"/>
<rect x="1078" y="349" width="5" height="7" fill="#000"/>
<rect x="1079" y="350" width="3" height="5" fill="#ff0000"/>
<rect x="1088" y="346" width="1" height="13" fill="#000"/>
<rect x="1086" y="349" width="5" height="9" fill="#000"/>
<rect x="1087" y="350" width="3" height="7" fill="#00ff00"/>
<rect x="1096" y="356" width="1" height="27" fill="#000"/>
<rect x="1094" y="357" width="5" height="22" fill="#000"/>
<rect x="1095" y="358" width="3" height="20" fill="#00ff00"/>
<rect x="1104" y="369" width="1" height="28" fill="#000"/>
<rect x="1102" y="379" width="5" height="8" fill="#000"/>
<rect x="1103" y="380" width="3" height="6" fill="#00ff00"/>
<rect x="1112" y="380" width="1" height="54" fill="#000"/>
<rect x="1110" y="386" width="5" height="42" fill="#000"/>
<rect x="1111" y="387" width="3" height="40" fill="#00ff00"/>
<rect x="1120" y="416" width="1" height="51" fill="#000"/>
<rect x="1118" y="423" width="5" height="5" fill="#000"/>
<rect x="1119" y="424" width="3" height="3" fill="#ff0000"/>
<rect x="1128" y="388" width="1" height="42" fill="#000"/>
<rect x="1126" y="395" width="5" height="30" fill="#000"/>
<rect x="1127" y="396" width="3" height="28" fill="#ff0000"/>
<rect x="1136" y="386" width="1" height="8" fill="#000"/>
<rect x="1134" y="386" width="5" height="7" fill="#000"/>
<rect x="1135" y="387" width="3" height="5" fill="#00ff00"/>
<rect x="1144" y="384" width="1" height="18" fill="#000"/>
<rect x="1142" y="393" width="5" height="7" fill="#000"/>
<rect x="1143" y="394" width="3" height="5" fill="#00ff00"/>
<rect x="1152" y="377" width="1" height="24" fill="#000"/>
<rect x="1150" y="378" width="5" height="22" fill="#000"/>
<rect x="1151" y="379" width="3" height="20" fill="#ff0000"/>
<rect x="1160" y="355" width="1" height="35" fill="#000"/>
<rect x="1158" y="360" width="5" height="19" fill="#000"/>
<rect x="1159" y="361" width="3" height="17" fill="#ff0000"/>
<rect x="1168" y="354" width="1" height="39" fill="#000"/>
<rect x="1166" y="361" width="5" height="29" fill="#000"/>
<rect x="1167" y="362" width="3" height="27" fill="#00ff00"/>
<rect x="1176" y="384" width="1" height="12" fill="#000"/>
<rect x="1174" y="388" width="5" height="3" fill="#000"/>
<rect x="1175" y="389" width="3" height="1" fill="#00ff00"/>
<rect x="1184" y="381" width="1" height="13" fill="#000"/>
<rect x="1182" y="384" width="5" height="7" fill="#000"/>
<rect x="1183" y="385" width="3" height="5" fill="#ff0000"/>
<rect x="1192" y="379" width="1" height="15" fill="#000"/>
<rect x="1190" y="384" width="5" height="2" fill="#000"/>
<rect x="1200" y="376" width="1" height="35" fill="#000"/>
<rect x="1198" y="385" width="5" height="20" fill="#000"/>
<rect x="1199" y="386" width="3" height="18" fill="#00ff00"/>
<rect x="1208" y="401" width="1" height="58" fill="#000"/>
<rect x="1206" y="404" width="5" height="48" fill="#000"/>
<rect x="1207" y="405" width="3" height="46" fill="#00ff00"/>
<rect x="1216" y="451" width="1" height="62" fill="#000"/>
<rect x="1214" y="451" width="5" height="40" fill="#000"/>
<rect x="1215" y="452" width="3" height="38" fill="#00ff00"/>
<rect x="1224" y="476" width="1" height="32" fill="#000"/>
<rect x="1222" y="476" width="5" height="15" fill="#000"/>
<rect x="1223" y="477" width="3" height="13" fill="#ff0000"/>
<rect x="1232" y="477" width="1" height="16" fill="#000"/>
<rect x="1230" y="477" width="5" height="4" fill="#000"/>
<rect x="1231" y="478" width="3" height="2" fill="#00ff00"/>
<rect x="1240" y="468" width="1" height="17" fill="#000"/>
<rect x="1238" y="477" width="5" height="5" fill="#000"/>
<rect x="1239" y="478" width="3" height="3" fill="#ff0000"/>
<rect x="1248" y="460" width="1" height="45" fill="#000"/>
<rect x="1246" y="471" width="5" height="7" fill="#000"/>
<rect x="1247" y="472" width="3" height="5" fill="#ff0000"/>
<rect x="1256" y="458" width="1" height="61" fill="#000"/>
<rect x="1254" y="471" width="5" height="41" fill="#000"/>
<rect x="1255" y="472" width="3" height="39" fill="#00ff00"/>
<rect x="1264" y="487" width="1" height="39" fill="#000"/>
<rect x="1262" y="508" width="5" height="4" fill="#000"/>
<rect x="1263" y="509" width="3" height="2" fill="#ff0000"/>
<rect x="1272" y="484" width="1" height="35" fill="#000"/>
<rect x="1270" y="496" width="5" height="12" fill="#000"/>
<rect x="1271" y="497" width="3" height="10" fill="#ff0000"/>
<rect x="1280" y="494" width="1" height="7" fill="#000"/>
<rect x="1278" y="496" width="5" height="4" fill="#000"/>
<rect x="1279" y="497" width="3" height="2" fill="#00ff00"/>
</g>
<g fill="none" stroke="#3cb371" stroke-width="1" shape-rendering="crispEdges">
<polyline points="0.5,58.8 21.0,59.6 41.5,60.7 55.8,60.7 62.0,51.0 70.2,38.7 82.5,33.0 90.5,31.5 103.0,33.6 115.3,37.7 127.5,48.0 139.8,59.2 152.5,66.0 160.5,68.3 168.5,70.0 176.5,76.0 184.5,80.0 192.5,85.4 200.5,87.7 208.5,91.9 216.5,94.4 224.5,95.7 232.5,96.6 240.5,96.4 248.5,97.1 256.5,92.2 264.5,88.5 272.5,86.1 280.5,86.6 288.5,88.6 296.5,90.0 304.5,91.0 312.5,92.1 320.5,92.3 328.5,92.4 336.5,92.9 344.5,93.6 352.5,93.8 360.5,94.9 368.5,94.8 376.5,94.7 384.5,93.2 392.5,89.5 400.5,73.4 408.5,61.4 416.5,55.3 424.5,55.9 432.5,54.4 440.5,47.9 448.5,46.0 456.5,45.1 464.5,51.0 472.5,59.8 480.5,71.4 488.5,80.4 496.5,85.3 504.5,97.6 512.5,113.6 520.5,131.7 528.5,154.7 536.5,184.3 544.5,214.4 552.5,242.8 560.5,257.4 568.5,272.6 576.5,285.8 584.5,302.2 592.5,285.1 600.5,261.6 608.5,242.8 616.5,232.2 624.5,221.7 632.5,216.5 640.5,215.6 648.5,212.8 656.5,211.7 664.5,213.0 672.5,215.8 680.5,217.9 688.5,222.7 696.5,222.6 704.5,229.3 712.5,227.2 720.5,224.7 728.5,225.3 736.5,234.3 744.5,241.9 752.5,248.1 760.5,258.3 768.5,267.5 776.5,270.0 784.5,272.5 792.5,272.3 800.5,273.9 808.5,274.8 816.5,270.0 824.5,269.9 832.5,270.1 840.5,269.9 848.5,269.6 856.5,268.7 864.5,267.9 872.5,268.8 880.5,271.2 888.5,271.1 896.5,270.5 904.5,270.2 912.5,264.0 920.5,263.6 928.5,262.6 936.5,262.5 944.5,263.1 952.5,262.7 960.5,262.2 968.5,262.1 976.5,265.2 984.5,261.7 992.5,258.6 1000.5,257.8 1008.5,256.7 1016.5,253.8 1024.5,252.1 1032.5,248.5 1040.5,248.0 1048.5,248.7 1056.5,251.8 1064.5,254.2 1072.5,265.2 1080.5,269.7 1088.5,280.5 1096.5,286.7 1104.5,293.8 1112.5,298.7 1120.5,307.0 1128.5,315.4 1136.5,319.7 1144.5,323.4 1152.5,327.7 1160.5,333.0 1168.5,339.7 1176.5,342.0 1184.5,344.5 1192.5,344.6 1200.5,345.1 1208.5,339.6 1216.5,328.7 1224.5,324.3 1232.5,325.4 1240.5,330.1 1248.5,335.8 1256.5,334.8 1264.5,335.4 1272.5,334.6 1280.5,334.4"/>
<polyline points="0.5,86.3 12.8,85.9 27.1,82.8 49.7,83.8 62.0,89.0 82.5,98.2 103.0,108.4 123.5,112.9 143.9,118.7 152.5,120.4 160.5,123.7 168.5,126.4 176.5,130.4 184.5,133.5 192.5,135.4 200.5,136.1 208.5,137.6 216.5,138.7 224.5,137.1 232.5,136.4 240.5,136.5 248.5,136.1 256.5,134.2 264.5,133.0 272.5,132.1 280.5,132.3 288.5,133.2 296.5,133.9 304.5,134.2 312.5,134.8 320.5,133.5 328.5,132.3 336.5,132.0 344.5,130.7 352.5,131.7 360.5,134.0 368.5,135.5 376.5,136.7 384.5,138.3 392.5,140.3 400.5,144.8 408.5,150.1 416.5,159.4 424.5,168.5 432.5,178.8 440.5,190.8 448.5,202.1 456.5,214.7 464.5,227.0 472.5,237.8 480.5,248.4 488.5,262.4 496.5,276.7 504.5,293.1 512.5,308.0 520.5,321.8 528.5,335.4 536.5,346.8 544.5,358.9 552.5,366.3 560.5,370.9 568.5,375.5 576.5,381.0 584.5,385.7 592.5,382.7 600.5,376.9 608.5,371.5 616.5,366.7 624.5,362.0 632.5,359.5 640.5,358.9 648.5,354.7 656.5,348.4 664.5,340.6 672.5,334.2 680.5,327.1 688.5,320.6 696.5,316.3 704.5,310.7 712.5,308.0 720.5,304.4 728.5,301.1 736.5,295.6 744.5,291.4 752.5,293.7 760.5,297.1 768.5,301.7 776.5,303.2 784.5,303.9 792.5,303.8 800.5,302.2 808.5,300.9 816.5,302.4 824.5,303.0 832.5,302.7 840.5,302.5 848.5,302.2 856.5,301.8 864.5,301.2 872.5,301.5 880.5,302.3 888.5,302.3 896.5,302.0 904.5,302.0 912.5,300.2 920.5,299.7 928.5,296.6 936.5,295.8 944.5,296.1 952.5,295.8 960.5,295.2 968.5,295.8 976.5,295.2 984.5,296.3 992.5,297.8 1000.5,299.6 1008.5,301.5 1016.5,305.1 1024.5,308.4 1032.5,312.8 1040.5,317.0 1048.5,321.3 1056.5,325.8 1064.5,330.6 1072.5,335.3 1080.5,337.9 1088.5,342.2 1096.5,346.3 1104.5,350.9 1112.5,357.8 1120.5,364.4 1128.5,368.6 1136.5,371.5 1144.5,374.5 1152.5,376.4 1160.5,377.8 1168.5,380.5 1176.5,382.0 1184.5,383.2 1192.5,383.3 1200.5,384.7 1208.5,388.5 1216.5,394.3 1224.5,398.8 1232.5,405.1 1240.5,411.5 1248.5,417.2 1256.5,423.8 1264.5,430.0 1272.5,433.4 1280.5,437.2"/>
<polyline points="0.5,112.5 16.9,109.0 27.1,108.0 35.3,105.8 45.5,106.4 55.8,110.5 62.0,118.7 70.2,143.3 82.5,163.7 90.7,174.0 103.0,179.1 113.2,180.5 131.5,176.0 152.5,174.7 160.5,179.2 168.5,182.7 176.5,184.8 184.5,187.1 192.5,185.4 200.5,184.5 208.5,183.3 216.5,183.0 224.5,178.6 232.5,176.3 240.5,176.7 248.5,175.2 256.5,176.2 264.5,177.5 272.5,178.1 280.5,178.0 288.5,177.8 296.5,177.7 304.5,177.4 312.5,177.6 320.5,174.6 328.5,172.1 336.5,171.1 344.5,167.7 352.5,169.5 360.5,173.1 368.5,176.2 376.5,178.6 384.5,183.3 392.5,191.1 400.5,216.2 408.5,238.7 416.5,263.6 424.5,281.2 432.5,303.3 440.5,333.8 448.5,358.2 456.5,384.2 464.5,403.1 472.5,415.7 480.5,425.4 488.5,444.4 496.5,468.0 504.5,488.6 512.5,502.3 520.5,511.9 528.5,516.2 536.5,509.3 544.5,503.5 552.5,489.8 560.5,484.3 568.5,478.4 576.5,476.2 584.5,469.2 592.5,480.2 600.5,492.1 608.5,500.1 616.5,501.1 624.5,502.3 632.5,502.5 640.5,502.2 648.5,496.5 656.5,485.1 664.5,468.1 672.5,452.6 680.5,436.3 688.5,418.6 696.5,410.0 704.5,392.1 712.5,388.8 720.5,384.1 728.5,376.9 736.5,356.9 744.5,341.0 752.5,339.4 760.5,335.9 768.5,335.8 776.5,336.4 784.5,335.2 792.5,335.2 800.5,330.5 808.5,326.9 816.5,334.7 824.5,336.2 832.5,335.2 840.5,335.2 848.5,334.9 856.5,334.9 864.5,334.5 872.5,334.3 880.5,333.4 888.5,333.4 896.5,333.6 904.5,333.7 912.5,336.5 920.5,335.9 928.5,330.6 936.5,329.0 944.5,329.1 952.5,328.9 960.5,328.3 968.5,329.5 976.5,325.1 984.5,330.8 992.5,336.9 1000.5,341.4 1008.5,346.3 1016.5,356.3 1024.5,364.7 1032.5,377.2 1040.5,386.1 1048.5,393.9 1056.5,399.8 1064.5,407.0 1072.5,405.4 1080.5,406.1 1088.5,403.8 1096.5,405.9 1104.5,408.0 1112.5,416.9 1120.5,421.8 1128.5,421.9 1136.5,423.4 1144.5,425.6 1152.5,425.1 1160.5,422.7 1168.5,421.3 1176.5,422.0 1184.5,421.9 1192.5,422.0 1200.5,424.4 1208.5,437.4 1216.5,459.9 1224.5,473.4 1232.5,484.8 1240.5,492.9 1248.5,498.6 1256.5,512.9 1264.5,524.5 1272.5,532.2 1280.5,540.0"/>
</g>
<g shape-rendering="crispEdges">
<rect x="0" y="411" width="1618" height="2" fill="#ff0000"/>
<rect x="0" y="444" width="1618" height="2" fill="#ff0000"/>
<rect x="0" y="475" width="1618" height="2" fill="#ffa500"/>
<rect x="0" y="518" width="1618" height="2" fill="#0000ff"/>
<rect x="0" y="543" width="1618" height="2" fill="#0000ff"/>
<rect x="0" y="499" width="1618" height="1" fill="#000"/>
</g>
<g shape-rendering="crispEdges" fill="#00ff00">
<rect x="-1" y="569" width="3" height="18"/>
<rect x="7" y="572" width="3" height="15"/>
<rect x="15" y="573" width="3" height="14"/>
<rect x="23" y="576" width="3" height="11"/>
<rect x="31" y="577" width="3" height="10"/>
<rect x="39" y="579" width="3" height="8"/>
<rect x="47" y="581" width="3" height="6"/>
<rect x="55" y="584" width="3" height="3"/>
<rect x="63" y="587" width="3" height="7"/>
<rect x="71" y="587" width="3" height="13"/>
<rect x="79" y="587" width="3" height="17"/>
<rect x="87" y="587" width="3" height="21"/>
<rect x="95" y="587" width="3" height="20"/>
<rect x="103" y="587" width="3" height="18"/>
<rect x="111" y="587" width="3" height="16"/>
<rect x="119" y="587" width="3" height="13"/>
<rect x="127" y="587" width="3" height="10"/>
<rect x="135" y="587" width="3" height="8"/>
<rect x="143" y="587" width="3" height="7"/>
<rect x="151" y="587" width="3" height="6"/>
<rect x="159" y="587" width="3" height="10"/>
<rect x="167" y="587" width="3" height="13"/>
<rect x="175" y="587" width="3" height="15"/>
<rect x="183" y="587" width="3" height="17"/>
<rect x="191" y="587" width="3" height="14"/>
<rect x="199" y="587" width="3" height="11"/>
<rect x="207" y="587" width="3" height="10"/>
<rect x="215" y="587" width="3" height="9"/>
<rect x="223" y="587" width="3" height="9"/>
<rect x="231" y="587" width="3" height="11"/>
<rect x="239" y="587" width="3" height="13"/>
<rect x="247" y="587" width="3" height="14"/>
<rect x="255" y="587" width="3" height="8"/>
<rect x="263" y="587" width="3" height="4"/>
<rect x="279" y="585" width="3" height="2"/>
<rect x="287" y="586" width="3" height="1"/>
<rect x="295" y="586" width="3" height="1"/>
<rect x="303" y="585" width="3" height="2"/>
<rect x="311" y="586" width="3" height="1"/>
<rect x="335" y="587" width="3" height="4"/>
<rect x="343" y="587" width="3" height="4"/>
<rect x="351" y="587" width="3" height="6"/>
<rect x="359" y="587" width="3" height="8"/>
<rect x="367" y="587" width="3" height="10"/>
<rect x="375" y="587" width="3" height="11"/>
<rect x="383" y="587" width="3" height="13"/>
<rect x="391" y="587" width="3" height="17"/>
<rect x="399" y="587" width="3" height="27"/>
<rect x="407" y="587" width="3" height="35"/>
<rect x="415" y="587" width="3" height="43"/>
<rect x="423" y="587" width="3" height="48"/>
<rect x="431" y="587" width="3" height="55"/>
<rect x="439" y="587" width="3" height="64"/>
<rect x="447" y="587" width="3" height="71"/>
<rect x="455" y="587" width="3" height="77"/>
<rect x="463" y="587" width="3" height="81"/>
<rect x="471" y="587" width="3" height="80"/>
<rect x="479" y="587" width="3" height="79"/>
<rect x="487" y="587" width="3" height="84"/>
<rect x="495" y="587" width="3" height="90"/>
<rect x="503" y="587" width="3" height="96"/>
<rect x="511" y="587" width="3" height="98"/>
<rect x="519" y="587" width="3" height="98"/>
<rect x="527" y="587" width="3" height="96"/>
<rect x="535" y="587" width="3" height="88"/>
<rect x="543" y="587" width="3" height="84"/>
<rect x="551" y="587" width="3" height="72"/>
<rect x="559" y="587" width="3" height="63"/>
<rect x="567" y="587" width="3" height="56"/>
<rect x="575" y="587" width="3" height="54"/>
<rect x="583" y="587" width="3" height="50"/>
<rect x="591" y="587" width="3" height="32"/>
<rect x="599" y="587" width="3" height="18"/>
<rect x="607" y="587" width="3" height="6"/>
<rect x="623" y="582" width="3" height="5"/>
<rect x="631" y="581" width="3" height="6"/>
<rect x="639" y="584" width="3" height="3"/>
<rect x="647" y="586" width="3" height="1"/>
<rect x="655" y="586" width="3" height="1"/>
<rect x="663" y="585" width="3" height="2"/>
<rect x="671" y="585" width="3" height="2"/>
<rect x="679" y="584" width="3" height="3"/>
<rect x="687" y="583" width="3" height="4"/>
<rect x="695" y="582" width="3" height="5"/>
<rect x="703" y="582" width="3" height="5"/>
<rect x="711" y="580" width="3" height="7"/>
<rect x="719" y="578" width="3" height="9"/>
<rect x="727" y="577" width="3" height="10"/>
<rect x="735" y="577" width="3" height="10"/>
<rect x="743" y="577" width="3" height="10"/>
<rect x="751" y="578" width="3" height="9"/>
<rect x="759" y="580" width="3" height="7"/>
<rect x="767" y="584" width="3" height="3"/>
<rect x="775" y="585" width="3" height="2"/>
<rect x="783" y="583" width="3" height="4"/>
<rect x="791" y="583" width="3" height="4"/>
<rect x="799" y="583" width="3" height="4"/>
<rect x="807" y="583" width="3" height="4"/>
<rect x="815" y="587" width="3" height="3"/>
<rect x="823" y="587" width="3" height="4"/>
<rect x="831" y="587" width="3" height="3"/>
<rect x="839" y="587" width="3" height="2"/>
<rect x="855" y="585" width="3" height="2"/>
<rect x="863" y="584" width="3" height="3"/>
<rect x="871" y="583" width="3" height="4"/>
<rect x="879" y="583" width="3" height="4"/>
<rect x="887" y="582" width="3" height="5"/>
<rect x="895" y="581" width="3" height="6"/>
<rect x="903" y="581" width="3" height="6"/>
<rect x="911" y="578" width="3" height="9"/>
<rect x="919" y="579" width="3" height="8"/>
<rect x="927" y="578" width="3" height="9"/>
<rect x="935" y="579" width="3" height="8"/>
<rect x="943" y="580" width="3" height="7"/>
<rect x="951" y="581" width="3" height="6"/>
<rect x="959" y="582" width="3" height="5"/>
<rect x="967" y="584" width="3" height="3"/>
<rect x="975" y="587" width="3" height="3"/>
<rect x="983" y="587" width="3" height="7"/>
<rect x="991" y="587" width="3" height="10"/>
<rect x="999" y="587" width="3" height="12"/>
<rect x="1007" y="587" width="3" height="13"/>
<rect x="1015" y="587" width="3" height="17"/>
<rect x="1023" y="587" width="3" height="19"/>
<rect x="1031" y="587" width="3" height="24"/>
<rect x="1039" y="587" width="3" height="26"/>
<rect x="1047" y="587" width="3" height="28"/>
<rect x="1055" y="587" width="3" height="28"/>
<rect x="1063" y="587" width="3" height="30"/>
<rect x="1071" y="587" width="3" height="27"/>
<rect x="1079" y="587" width="3" height="25"/>
<rect x="1087" y="587" width="3" height="23"/>
<rect x="1095" y="587" width="3" height="24"/>
<rect x="1103" y="587" width="3" height="25"/>
<rect x="1111" y="587" width="3" height="30"/>
<rect x="1119" y="587" width="3" height="33"/>
<rect x="1127" y="587" width="3" height="32"/>
<rect x="1135" y="587" width="3" height="31"/>
<rect x="1143" y="587" width="3" height="30"/>
<rect x="1151" y="587" width="3" height="27"/>
<rect x="1159" y="587" width="3" height="22"/>
<rect x="1167" y="587" width="3" height="22"/>
<rect x="1175" y="587" width="3" height="21"/>
<rect x="1183" y="587" width="3" height="20"/>
<rect x="1191" y="587" width="3" height="18"/>
<rect x="1199" y="587" width="3" height="19"/>
<rect x="1207" y="587" width="3" height="24"/>
<rect x="1215" y="587" width="3" height="33"/>
<rect x="1223" y="587" width="3" height="37"/>
<rect x="1231" y="587" width="3" height="41"/>
<rect x="1239" y="587" width="3" height="43"/>
<rect x="1247" y="587" width="3" height="43"/>
<rect x="1255" y="587" width="3" height="47"/>
<rect x="1263" y="587" width="3" height="50"/>
<rect x="1271" y="587" width="3" height="50"/>
<rect x="1279" y="587" width="3" height="50"/>
</g>
<polyline fill="none" stroke="#ff0000" stroke-width="2" shape-rendering="crispEdges" points="0.5,563.9 8.5,565.4 16.5,566.3 24.5,567.5 32.5,570.0 40.5,572.1 48.5,574.2 56.5,576.0 64.5,578.7 72.5,582.0 80.5,585.4 88.5,589.2 96.5,592.6 104.5,595.5 112.5,598.0 120.5,600.0 128.5,601.4 136.5,601.6 144.5,600.9 152.5,599.8 160.5,598.6 168.5,597.8 176.5,597.5 184.5,597.6 192.5,597.7 200.5,597.8 208.5,597.9 216.5,598.1 224.5,598.5 232.5,598.5 240.5,598.6 248.5,598.5 256.5,597.6 264.5,596.4 272.5,595.3 280.5,594.1 288.5,593.1 296.5,592.0 304.5,590.7 312.5,589.3 320.5,587.8 328.5,587.0 336.5,587.1 344.5,587.5 352.5,588.2 360.5,589.1 368.5,590.2 376.5,591.5 384.5,593.0 392.5,594.8 400.5,597.6 408.5,600.9 416.5,605.2 424.5,610.0 432.5,615.2 440.5,621.2 448.5,627.9 456.5,635.0 464.5,642.1 472.5,648.1 480.5,653.0 488.5,657.6 496.5,662.3 504.5,666.9 512.5,670.6 520.5,673.6 528.5,675.6 536.5,676.4 544.5,676.8 552.5,676.1 560.5,673.8 568.5,670.0 576.5,665.4 584.5,660.0 592.5,652.8 600.5,644.1 608.5,635.0 616.5,625.7 624.5,617.3 632.5,609.7 640.5,603.2 648.5,597.1 656.5,591.6 664.5,587.8 672.5,585.8 680.5,584.8 688.5,584.4 696.5,584.4 704.5,584.5 712.5,584.1 720.5,583.2 728.5,582.2 736.5,581.4 744.5,580.5 752.5,579.8 760.5,579.4 768.5,579.7 776.5,580.0 784.5,580.4 792.5,581.0 800.5,581.7 808.5,582.4 816.5,583.6 824.5,585.0 832.5,586.1 840.5,586.5 848.5,586.6 856.5,586.8 864.5,586.9 872.5,586.9 880.5,586.8 888.5,586.1 896.5,585.1 904.5,584.2 912.5,583.1 920.5,582.3 928.5,581.5 936.5,581.0 944.5,580.7 952.5,580.5 960.5,580.4 968.5,580.7 976.5,581.6 984.5,583.3 992.5,585.1 1000.5,587.3 1008.5,589.5 1016.5,592.0 1024.5,594.7 1032.5,597.8 1040.5,600.9 1048.5,603.7 1056.5,606.1 1064.5,608.3 1072.5,610.0 1080.5,611.3 1088.5,612.0 1096.5,612.5 1104.5,612.6 1112.5,613.1 1120.5,613.7 1128.5,614.1 1136.5,614.2 1144.5,614.5 1152.5,614.8 1160.5,614.7 1168.5,614.5 1176.5,614.0 1184.5,612.9 1192.5,611.3 1200.5,609.8 1208.5,609.1 1216.5,609.4 1224.5,610.5 1232.5,612.5 1240.5,614.9 1248.5,617.3 1256.5,620.4 1264.5,623.9 1272.5,627.3 1280.5,630.1"/>
<rect x="1619" y="557" width="2" height="1" fill="#000" shape-rendering="crispEdges"/>
<rect x="1619" y="587" width="2" height="1" fill="#000" shape-rendering="crispEdges"/>
<rect x="1619" y="690" width="2" height="1" fill="#000" shape-rendering="crispEdges"/>
<text x="1622" y="566" class="ax" textLength="38" lengthAdjust="spacingAndGlyphs">0.003854</text>
<text x="1622" y="591" class="ax" textLength="18" lengthAdjust="spacingAndGlyphs">0.00</text>
<text x="1622" y="688" class="ax" textLength="42" lengthAdjust="spacingAndGlyphs">-0.013133</text>
<text x="-2" y="568" class="ax" textLength="152" lengthAdjust="spacingAndGlyphs">MACD(12,26,9) -0.006166 -0.005419</text>
<g stroke="#000" stroke-width="1" stroke-dasharray="3,3" shape-rendering="crispEdges">
<line x1="-1" y1="718.5" x2="1618" y2="718.5"/>
<line x1="-1" y1="754.5" x2="1618" y2="754.5"/>
<line x1="-1" y1="796.5" x2="1618" y2="796.5"/>
</g>
<polyline fill="none" stroke="#1e90ff" stroke-width="2" shape-rendering="crispEdges" points="0.5,751.8 8.5,756.3 16.5,748.0 24.5,754.0 32.5,752.2 40.5,755.8 48.5,755.8 56.5,760.9 64.5,777.2 72.5,774.2 80.5,773.7 88.5,774.5 96.5,762.0 104.5,756.0 112.5,756.0 120.5,752.5 128.5,751.4 136.5,753.0 144.5,752.6 152.5,756.1 160.5,769.6 168.5,767.3 176.5,769.4 184.5,767.9 192.5,754.8 200.5,750.0 208.5,755.8 216.5,757.5 224.5,760.0 232.5,763.3 240.5,767.9 248.5,764.8 256.5,744.8 264.5,744.3 272.5,746.5 280.5,750.9 288.5,754.7 296.5,754.3 304.5,751.9 312.5,757.0 320.5,756.6 328.5,756.2 336.5,765.5 344.5,755.5 352.5,760.8 360.5,764.6 368.5,764.2 376.5,763.3 384.5,768.4 392.5,773.5 400.5,785.3 408.5,786.4 416.5,789.3 424.5,785.8 432.5,789.5 440.5,794.0 448.5,792.4 456.5,794.6 464.5,790.5 472.5,782.7 480.5,782.0 488.5,789.6 496.5,792.3 504.5,793.7 512.5,788.2 520.5,785.8 528.5,784.0 536.5,769.1 544.5,774.0 552.5,756.8 560.5,758.2 568.5,759.9 576.5,766.3 584.5,761.3 592.5,742.5 600.5,741.4 608.5,742.2 616.5,748.9 624.5,747.9 632.5,752.0 640.5,757.8 648.5,756.6 656.5,755.0 664.5,752.7 672.5,755.3 680.5,751.2 688.5,752.9 696.5,751.7 704.5,753.3 712.5,749.3 720.5,747.3 728.5,751.3 736.5,750.4 744.5,751.2 752.5,752.4 760.5,755.8 768.5,762.9 776.5,756.3 784.5,750.1 792.5,752.3 800.5,754.2 808.5,753.4 816.5,765.3 824.5,757.4 832.5,755.4 840.5,751.4 848.5,752.5 856.5,750.2 864.5,751.4 872.5,751.4 880.5,750.8 888.5,750.8 896.5,748.5 904.5,750.5 912.5,741.7 920.5,754.8 928.5,747.7 936.5,754.8 944.5,754.5 952.5,752.9 960.5,753.6 968.5,759.8 976.5,766.4 984.5,767.9 992.5,767.9 1000.5,764.1 1008.5,765.6 1016.5,772.2 1024.5,772.2 1032.5,777.5 1040.5,774.1 1048.5,774.4 1056.5,773.3 1064.5,776.3 1072.5,761.9 1080.5,759.4 1088.5,762.2 1096.5,768.7 1104.5,770.9 1112.5,780.1 1120.5,778.3 1128.5,766.6 1136.5,765.4 1144.5,767.3 1152.5,759.3 1160.5,753.3 1168.5,761.8 1176.5,762.1 1184.5,759.9 1192.5,759.9 1200.5,766.0 1208.5,776.5 1216.5,782.7 1224.5,777.5 1232.5,778.2 1240.5,777.0 1248.5,774.6 1256.5,781.6 1264.5,780.4 1272.5,775.5 1280.5,776.1"/>
<rect x="1619" y="695" width="2" height="1" fill="#000" shape-rendering="crispEdges"/>
<rect x="1619" y="718" width="2" height="1" fill="#000" shape-rendering="crispEdges"/>
<rect x="1619" y="754" width="2" height="1" fill="#000" shape-rendering="crispEdges"/>
<rect x="1619" y="796" width="2" height="1" fill="#000" shape-rendering="crispEdges"/>
<rect x="1619" y="814" width="2" height="1" fill="#000" shape-rendering="crispEdges"/>
<text x="1622" y="704" class="ax" textLength="14" lengthAdjust="spacingAndGlyphs">100</text>
<text x="1622" y="722" class="ax" textLength="10" lengthAdjust="spacingAndGlyphs">80</text>
<text x="1622" y="758" class="ax" textLength="10" lengthAdjust="spacingAndGlyphs">50</text>
<text x="1622" y="800" class="ax" textLength="10" lengthAdjust="spacingAndGlyphs">15</text>
<text x="1622" y="811" class="ax" textLength="5" lengthAdjust="spacingAndGlyphs">0</text>
<text x="-3" y="706" class="ax" textLength="66" lengthAdjust="spacingAndGlyphs">RSI(14) 32.1841</text>
<text x="-9.3" y="826.8" class="ax" textLength="55.3" lengthAdjust="spacingAndGlyphs">31 May 2022</text>
<rect x="56" y="815" width="1" height="3" fill="#000" shape-rendering="crispEdges"/>
<text x="55.5" y="826.8" class="ax" textLength="47.9" lengthAdjust="spacingAndGlyphs">1 Jun 08:00</text>
<rect x="120" y="815" width="1" height="3" fill="#000" shape-rendering="crispEdges"/>
<text x="119.5" y="826.8" class="ax" textLength="47.9" lengthAdjust="spacingAndGlyphs">2 Jun 16:00</text>
<rect x="184" y="815" width="1" height="3" fill="#000" shape-rendering="crispEdges"/>
<text x="183.5" y="826.8" class="ax" textLength="47.9" lengthAdjust="spacingAndGlyphs">6 Jun 00:00</text>
<rect x="248" y="815" width="1" height="3" fill="#000" shape-rendering="crispEdges"/>
<text x="247.5" y="826.8" class="ax" textLength="47.9" lengthAdjust="spacingAndGlyphs">7 Jun 08:00</text>
<rect x="312" y="815" width="1" height="3" fill="#000" shape-rendering="crispEdges"/>
<text x="311.5" y="826.8" class="ax" textLength="47.9" lengthAdjust="spacingAndGlyphs">8 Jun 16:00</text>
<rect x="376" y="815" width="1" height="3" fill="#000" shape-rendering="crispEdges"/>
<text x="375.5" y="826.8" class="ax" textLength="53.0" lengthAdjust="spacingAndGlyphs">10 Jun 00:00</text>
<rect x="440" y="815" width="1" height="3" fill="#000" shape-rendering="crispEdges"/>
<text x="439.5" y="826.8" class="ax" textLength="53.0" lengthAdjust="spacingAndGlyphs">13 Jun 08:00</text>
<rect x="504" y="815" width="1" height="3" fill="#000" shape-rendering="crispEdges"/>
<text x="503.5" y="826.8" class="ax" textLength="53.0" lengthAdjust="spacingAndGlyphs">14 Jun 16:00</text>
<rect x="568" y="815" width="1" height="3" fill="#000" shape-rendering="crispEdges"/>
<text x="567.5" y="826.8" class="ax" textLength="53.0" lengthAdjust="spacingAndGlyphs">16 Jun 00:00</text>
<rect x="632" y="815" width="1" height="3" fill="#000" shape-rendering="crispEdges"/>
<text x="631.5" y="826.8" class="ax" textLength="53.0" lengthAdjust="spacingAndGlyphs">17 Jun 08:00</text>
<rect x="696" y="815" width="1" height="3" fill="#000" shape-rendering="crispEdges"/>
<text x="695.5" y="826.8" class="ax" textLength="53.0" lengthAdjust="spacingAndGlyphs">20 Jun 16:00</text>
<rect x="760" y="815" width="1" height="3" fill="#000" shape-rendering="crispEdges"/>
<text x="759.5" y="826.8" class="ax" textLength="53.0" lengthAdjust="spacingAndGlyphs">22 Jun 00:00</text>
<rect x="824" y="815" width="1" height="3" fill="#000" shape-rendering="crispEdges"/>
<text x="823.5" y="826.8" class="ax" textLength="53.0" lengthAdjust="spacingAndGlyphs">23 Jun 08:00</text>
<rect x="888" y="815" width="1" height="3" fill="#000" shape-rendering="crispEdges"/>
<text x="887.5" y="826.8" class="ax" textLength="53.0" lengthAdjust="spacingAndGlyphs">24 Jun 16:00</text>
<rect x="952" y="815" width="1" height="3" fill="#000" shape-rendering="crispEdges"/>
<text x="951.5" y="826.8" class="ax" textLength="53.0" lengthAdjust="spacingAndGlyphs">28 Jun 00:00</text>
<rect x="1016" y="815" width="1" height="3" fill="#000" shape-rendering="crispEdges"/>
<text x="1015.5" y="826.8" class="ax" textLength="53.0" lengthAdjust="spacingAndGlyphs">29 Jun 08:00</text>
<rect x="1080" y="815" width="1" height="3" fill="#000" shape-rendering="crispEdges"/>
<text x="1079.5" y="826.8" class="ax" textLength="53.0" lengthAdjust="spacingAndGlyphs">30 Jun 16:00</text>
<rect x="1144" y="815" width="1" height="3" fill="#000" shape-rendering="crispEdges"/>
<text x="1143.5" y="826.8" class="ax" textLength="44.9" lengthAdjust="spacingAndGlyphs">4 Jul 00:00</text>
<rect x="1208" y="815" width="1" height="3" fill="#000" shape-rendering="crispEdges"/>
<text x="1207.5" y="826.8" class="ax" textLength="44.9" lengthAdjust="spacingAndGlyphs">5 Jul 08:00</text>
<rect x="1272" y="815" width="1" height="3" fill="#000" shape-rendering="crispEdges"/>
<text x="1271.5" y="826.8" class="ax" textLength="44.9" lengthAdjust="spacingAndGlyphs">6 Jul 16:00</text>
<g shape-rendering="crispEdges">
<rect x="1619" y="55" width="2" height="1" fill="#000"/>
<rect x="1619" y="88" width="2" height="1" fill="#000"/>
<rect x="1619" y="121" width="2" height="1" fill="#000"/>
<rect x="1619" y="154" width="2" height="1" fill="#000"/>
<rect x="1619" y="187" width="2" height="1" fill="#000"/>
<rect x="1619" y="220" width="2" height="1" fill="#000"/>
<rect x="1619" y="253" width="2" height="1" fill="#000"/>
<rect x="1619" y="286" width="2" height="1" fill="#000"/>
<rect x="1619" y="319" width="2" height="1" fill="#000"/>
<rect x="1619" y="352" width="2" height="1" fill="#000"/>
<rect x="1619" y="385" width="2" height="1" fill="#000"/>
<rect x="1619" y="418" width="2" height="1" fill="#000"/>
<rect x="1619" y="451" width="2" height="1" fill="#000"/>
<rect x="1619" y="484" width="2" height="1" fill="#000"/>
<rect x="1619" y="517" width="2" height="1" fill="#000"/>
<rect x="1619" y="550" width="2" height="1" fill="#000"/>
</g>
<text x="1623.8" y="59" class="ax" textLength="33" lengthAdjust="spacingAndGlyphs">1.26695</text>
<text x="1623.8" y="92" class="ax" textLength="33" lengthAdjust="spacingAndGlyphs">1.26140</text>
<text x="1623.8" y="125" class="ax" textLength="33" lengthAdjust="spacingAndGlyphs">1.25570</text>
<text x="1623.8" y="158" class="ax" textLength="33" lengthAdjust="spacingAndGlyphs">1.25015</text>
<text x="1623.8" y="191" class="ax" textLength="33" lengthAdjust="spacingAndGlyphs">1.24460</text>
<text x="1623.8" y="224" class="ax" textLength="33" lengthAdjust="spacingAndGlyphs">1.23905</text>
<text x="1623.8" y="257" class="ax" textLength="33" lengthAdjust="spacingAndGlyphs">1.23350</text>
<text x="1623.8" y="290" class="ax" textLength="33" lengthAdjust="spacingAndGlyphs">1.22780</text>
<text x="1623.8" y="323" class="ax" textLength="33" lengthAdjust="spacingAndGlyphs">1.22225</text>
<text x="1623.8" y="356" class="ax" textLength="33" lengthAdjust="spacingAndGlyphs">1.21670</text>
<text x="1623.8" y="389" class="ax" textLength="33" lengthAdjust="spacingAndGlyphs">1.21115</text>
<text x="1623.8" y="422" class="ax" textLength="33" lengthAdjust="spacingAndGlyphs">1.20560</text>
<text x="1623.8" y="455" class="ax" textLength="33" lengthAdjust="spacingAndGlyphs">1.19990</text>
<text x="1623.8" y="488" class="ax" textLength="33" lengthAdjust="spacingAndGlyphs">1.19435</text>
<text x="1623.8" y="521" class="ax" textLength="33" lengthAdjust="spacingAndGlyphs">1.18880</text>
<text x="1623.8" y="554" class="ax" textLength="33" lengthAdjust="spacingAndGlyphs">1.18325</text>
<rect x="1620" y="406" width="41" height="11" fill="#ff0000" shape-rendering="crispEdges"/>
<text x="1623.8" y="415" class="ax" style="fill:#fff;stroke:#fff" textLength="33" lengthAdjust="spacingAndGlyphs">1.20652</text>
<rect x="1620" y="439" width="41" height="11" fill="#ff0000" shape-rendering="crispEdges"/>
<text x="1623.8" y="448" class="ax" style="fill:#fff;stroke:#fff" textLength="33" lengthAdjust="spacingAndGlyphs">1.20106</text>
<rect x="1620" y="470" width="41" height="11" fill="#ffa500" shape-rendering="crispEdges"/>
<text x="1623.8" y="479" class="ax" style="fill:#fff;stroke:#fff" textLength="33" lengthAdjust="spacingAndGlyphs">1.19576</text>
<rect x="1620" y="494" width="41" height="11" fill="#000000" shape-rendering="crispEdges"/>
<text x="1623.8" y="503" class="ax" style="fill:#fff;stroke:#fff" textLength="33" lengthAdjust="spacingAndGlyphs">1.19180</text>
<rect x="1620" y="513" width="41" height="11" fill="#0000ff" shape-rendering="crispEdges"/>
<text x="1623.8" y="522" class="ax" style="fill:#fff;stroke:#fff" textLength="33" lengthAdjust="spacingAndGlyphs">1.18842</text>
<rect x="1620" y="538" width="41" height="11" fill="#0000ff" shape-rendering="crispEdges"/>
<text x="1623.8" y="547" class="ax" style="fill:#fff;stroke:#fff" textLength="33" lengthAdjust="spacingAndGlyphs">1.18420</text>
<path d="M-1,33.5 L3,33.5 L1,36 Z" fill="#000"/>
<text x="7" y="39" class="ax" textLength="57" lengthAdjust="spacingAndGlyphs">GBPUSD-,H4</text>
<text x="70" y="39" class="ax" textLength="33" lengthAdjust="spacingAndGlyphs">1.19243</text>
<text x="106" y="39" class="ax" textLength="33" lengthAdjust="spacingAndGlyphs">1.19269</text>
<text x="142" y="39" class="ax" textLength="33" lengthAdjust="spacingAndGlyphs">1.19160</text>
<text x="178" y="39" class="ax" textLength="33" lengthAdjust="spacingAndGlyphs">1.19180</text>
<path d="M1286.5,27.5 L1296.5,27.5 L1291.5,33 Z" fill="#000"/>
</svg>
</body></html>
